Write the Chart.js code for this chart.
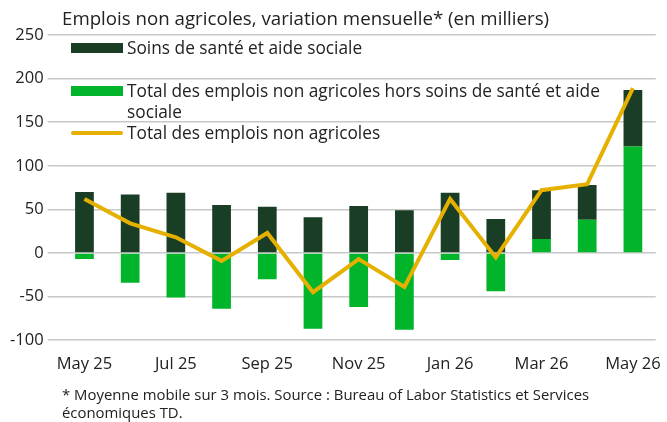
<!DOCTYPE html>
<html lang="fr">
<head>
<meta charset="utf-8">
<script src="https://cdn.jsdelivr.net/npm/chart.js@4/dist/chart.umd.min.js"></script>
<style>
  html, body { margin: 0; padding: 0; background: #fff; }
  #wrap { position: relative; width: 667px; height: 422px; font-family: "Open Sans", sans-serif; color: #222; }
  #chart { position: absolute; left: 0; top: 0; }
  .title { position: absolute; left: 62px; top: 5px; font-size: 18.7px; white-space: nowrap; }
  .note { position: absolute; left: 62px; top: 385px; font-size: 14.9px; line-height: 18px; white-space: nowrap; }
  .legend { position: absolute; left: 71px; top: 37px; font-size: 17.3px; line-height: 21px; white-space: nowrap; }
  .legend .item { position: relative; padding-left: 56px; }
  .legend .sw { position: absolute; left: 0; top: 6px; width: 52px; height: 10px; }
  .legend .ln { position: absolute; left: 0; top: 9px; width: 52px; height: 4px; border-radius: 2px; }
</style>
</head>
<body>
<div id="wrap">
  <canvas id="chart" width="667" height="422"></canvas>
  <div class="title">Emplois non agricoles, variation mensuelle* (en milliers)</div>
  <div class="legend" id="legend"></div>
  <div class="note">* Moyenne mobile sur 3 mois. Source : Bureau of Labor Statistics et Services<br>économiques TD.</div>
</div>
<script>
// --- Données ---
const months = ['May 25', 'Jun 25', 'Jul 25', 'Aug 25', 'Sep 25', 'Oct 25', 'Nov 25',
                'Dec 25', 'Jan 26', 'Feb 26', 'Mar 26', 'Apr 26', 'May 26'];
const sante = [70, 67, 69, 55, 53, 41, 54, 49, 69, 39, 56, 40, 65];
const horsSante = [-7, -34, -51, -64, -30, -87, -62, -88, -8, -44, 16, 38, 122];
const totalNonAgri = [62, 34, 18, -9, 23, -45, -7, -39, 62, -5, 72, 79, 189];
const yTicks = [-100, -50, 0, 50, 100, 150, 200, 250];

const seriesNames = ['Soins de santé et aide sociale',
                     'Total des emplois non agricoles hors soins de santé et aide<br>sociale',
                     'Total des emplois non agricoles'];
const colDark = '#1a3d25';
const colGreen = '#00b52a';
const colGold = '#e6b000';

// légende HTML (le libellé du milieu passe sur deux lignes)
const legendEl = document.getElementById('legend');
const legendItems = [
  { name: seriesNames[0], color: colDark, kind: 'sw', gap: 22 },
  { name: seriesNames[1], color: colGreen, kind: 'sw', gap: 0 },
  { name: seriesNames[2], color: colGold, kind: 'ln', gap: 0 }
];
legendItems.forEach(it => {
  const d = document.createElement('div');
  d.className = 'item';
  d.style.marginBottom = it.gap + 'px';
  d.innerHTML = '<span class="' + it.kind + '" style="background:' + it.color + '"></span>' + it.name;
  legendEl.appendChild(d);
});

new Chart(document.getElementById('chart'), {
  data: {
    labels: months,
    datasets: [
      { type: 'line', label: 'Total', data: totalNonAgri, borderColor: colGold, borderWidth: 4,
        pointRadius: 0, tension: 0, stack: 'ligne', order: 0, borderJoinStyle: 'miter' },
      { type: 'bar', label: 'Hors santé', data: horsSante, backgroundColor: colGreen,
        stack: 'barres', order: 1, barPercentage: 0.41, categoryPercentage: 1 },
      { type: 'bar', label: 'Santé', data: sante, backgroundColor: colDark,
        stack: 'barres', order: 1, barPercentage: 0.41, categoryPercentage: 1 }
    ]
  },
  options: {
    responsive: false,
    animation: false,
    layout: { padding: { left: 6, right: 10, top: 35, bottom: 42 } },
    plugins: { legend: { display: false }, tooltip: { enabled: false } },
    scales: {
      x: {
        stacked: true,
        grid: { display: false },
        border: { display: false },
        ticks: {
          autoSkip: false, maxRotation: 0, color: '#222', padding: 6,
          font: { family: 'Open Sans', size: 16.5 },
          callback: (v, i) => (i % 2 === 0 ? months[i] : '')
        }
      },
      y: {
        stacked: true,
        min: yTicks[0],
        max: yTicks[yTicks.length - 1],
        afterBuildTicks: axis => { axis.ticks = yTicks.map(v => ({ value: v })); },
        grid: { color: '#c8c8c8', lineWidth: 1.5, tickLength: 14, drawTicks: true },
        border: { display: false },
        ticks: { color: '#222', padding: 4, font: { family: 'Open Sans', size: 16.5 } }
      }
    }
  }
});
</script>
</body>
</html>
